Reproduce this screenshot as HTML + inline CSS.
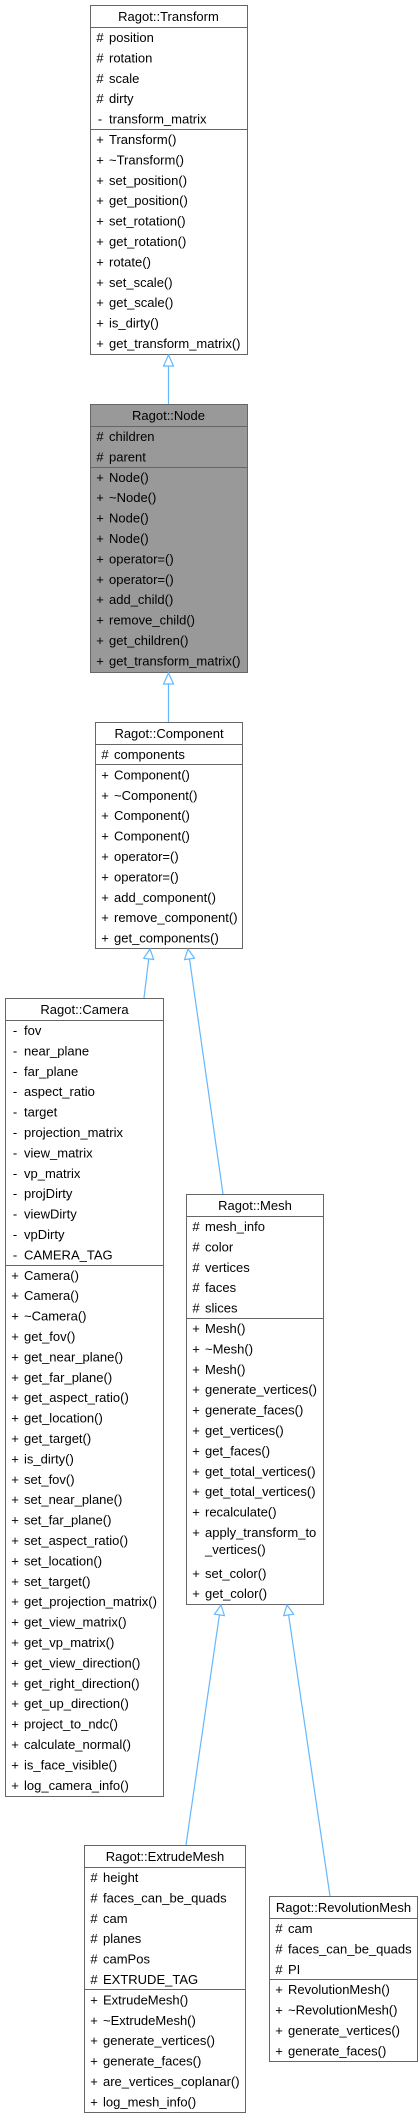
<!DOCTYPE html>
<html><head><meta charset="utf-8"><style>
html,body{margin:0;padding:0;background:#fff;width:420px;height:2120px;overflow:hidden}
svg{display:block}
text{font-family:"Liberation Sans",Arial,sans-serif;font-size:13px;fill:#000}
.b{fill:#fff;stroke:#666;stroke-width:1}
.g{fill:#999;stroke:#666;stroke-width:1}
.s{stroke:#666;stroke-width:1}
.a{stroke:#63b8ff;stroke-width:1.2;fill:none}
.h{stroke:#63b8ff;stroke-width:1.2;fill:#fff}
.m{text-anchor:middle}
</style></head><body>
<svg width="420" height="2120" viewBox="0 0 420 2120">
<!-- Transform -->
<rect class="b" x="90.5" y="5.5" width="157" height="349"/>
<line class="s" x1="90" y1="27.5" x2="247" y2="27.5"/>
<line class="s" x1="90" y1="129.5" x2="247" y2="129.5"/>
<text class="m" x="168.5" y="21">Ragot::Transform</text>
<g>
<text class="m" x="100" y="42">#</text><text x="109" y="42">position</text>
<text class="m" x="100" y="62.4">#</text><text x="109" y="62.4">rotation</text>
<text class="m" x="100" y="82.8">#</text><text x="109" y="82.8">scale</text>
<text class="m" x="100" y="103.2">#</text><text x="109" y="103.2">dirty</text>
<text class="m" x="100" y="123.6">-</text><text x="109" y="123.6">transform_matrix</text>
<text class="m" x="100" y="144">+</text><text x="109" y="144">Transform()</text>
<text class="m" x="100" y="164.4">+</text><text x="109" y="164.4">~Transform()</text>
<text class="m" x="100" y="184.8">+</text><text x="109" y="184.8">set_position()</text>
<text class="m" x="100" y="205.2">+</text><text x="109" y="205.2">get_position()</text>
<text class="m" x="100" y="225.6">+</text><text x="109" y="225.6">set_rotation()</text>
<text class="m" x="100" y="246">+</text><text x="109" y="246">get_rotation()</text>
<text class="m" x="100" y="266.4">+</text><text x="109" y="266.4">rotate()</text>
<text class="m" x="100" y="286.8">+</text><text x="109" y="286.8">set_scale()</text>
<text class="m" x="100" y="307.2">+</text><text x="109" y="307.2">get_scale()</text>
<text class="m" x="100" y="327.6">+</text><text x="109" y="327.6">is_dirty()</text>
<text class="m" x="100" y="348">+</text><text x="109" y="348">get_transform_matrix()</text>
</g>
<!-- arrow 1 -->
<line class="a" x1="168.5" y1="366" x2="168.5" y2="404"/>
<polygon class="h" points="168.5,355 163.5,366 173.5,366"/>
<!-- Node -->
<rect class="g" x="90.5" y="404.5" width="157" height="268"/>
<line class="s" x1="90" y1="426.5" x2="247" y2="426.5"/>
<line class="s" x1="90" y1="467.5" x2="247" y2="467.5"/>
<text class="m" x="168.5" y="420">Ragot::Node</text>
<text class="m" x="100" y="441">#</text><text x="109" y="441">children</text>
<text class="m" x="100" y="461.4">#</text><text x="109" y="461.4">parent</text>
<text class="m" x="100" y="481.8">+</text><text x="109" y="481.8">Node()</text>
<text class="m" x="100" y="502.2">+</text><text x="109" y="502.2">~Node()</text>
<text class="m" x="100" y="522.6">+</text><text x="109" y="522.6">Node()</text>
<text class="m" x="100" y="543">+</text><text x="109" y="543">Node()</text>
<text class="m" x="100" y="563.4">+</text><text x="109" y="563.4">operator=()</text>
<text class="m" x="100" y="583.8">+</text><text x="109" y="583.8">operator=()</text>
<text class="m" x="100" y="604.2">+</text><text x="109" y="604.2">add_child()</text>
<text class="m" x="100" y="624.6">+</text><text x="109" y="624.6">remove_child()</text>
<text class="m" x="100" y="645">+</text><text x="109" y="645">get_children()</text>
<text class="m" x="100" y="665.4">+</text><text x="109" y="665.4">get_transform_matrix()</text>
<!-- arrow 2 -->
<line class="a" x1="168.5" y1="684" x2="168.5" y2="722"/>
<polygon class="h" points="168.5,673 163.5,684 173.5,684"/>
<!-- Component -->
<rect class="b" x="95.5" y="722.5" width="147" height="226"/>
<line class="s" x1="95" y1="744.5" x2="242" y2="744.5"/>
<line class="s" x1="95" y1="764.5" x2="242" y2="764.5"/>
<text class="m" x="169" y="738">Ragot::Component</text>
<text class="m" x="105" y="759">#</text><text x="114" y="759">components</text>
<text class="m" x="105" y="779.4">+</text><text x="114" y="779.4">Component()</text>
<text class="m" x="105" y="799.8">+</text><text x="114" y="799.8">~Component()</text>
<text class="m" x="105" y="820.2">+</text><text x="114" y="820.2">Component()</text>
<text class="m" x="105" y="840.6">+</text><text x="114" y="840.6">Component()</text>
<text class="m" x="105" y="861">+</text><text x="114" y="861">operator=()</text>
<text class="m" x="105" y="881.4">+</text><text x="114" y="881.4">operator=()</text>
<text class="m" x="105" y="901.8">+</text><text x="114" y="901.8">add_component()</text>
<text class="m" x="105" y="922.2">+</text><text x="114" y="922.2">remove_component()</text>
<text class="m" x="105" y="942.6">+</text><text x="114" y="942.6">get_components()</text>
<!-- arrows from Component -->
<line class="a" x1="144" y1="998" x2="148.7" y2="958.9"/>
<polygon class="h" points="150,949 153.7,959.5 143.7,958.3"/>
<line class="a" x1="223" y1="1194" x2="189.5" y2="958.9"/>
<polygon class="h" points="188,949 194.5,958.2 184.6,959.6"/>
<!-- Camera -->
<rect class="b" x="5.5" y="998.5" width="158" height="798"/>
<line class="s" x1="5" y1="1020.5" x2="163" y2="1020.5"/>
<line class="s" x1="5" y1="1265.5" x2="163" y2="1265.5"/>
<text class="m" x="84.5" y="1014">Ragot::Camera</text>
<text class="m" x="15" y="1035">-</text><text x="24" y="1035">fov</text>
<text class="m" x="15" y="1055.4">-</text><text x="24" y="1055.4">near_plane</text>
<text class="m" x="15" y="1075.8">-</text><text x="24" y="1075.8">far_plane</text>
<text class="m" x="15" y="1096.2">-</text><text x="24" y="1096.2">aspect_ratio</text>
<text class="m" x="15" y="1116.6">-</text><text x="24" y="1116.6">target</text>
<text class="m" x="15" y="1137">-</text><text x="24" y="1137">projection_matrix</text>
<text class="m" x="15" y="1157.4">-</text><text x="24" y="1157.4">view_matrix</text>
<text class="m" x="15" y="1177.8">-</text><text x="24" y="1177.8">vp_matrix</text>
<text class="m" x="15" y="1198.2">-</text><text x="24" y="1198.2">projDirty</text>
<text class="m" x="15" y="1218.6">-</text><text x="24" y="1218.6">viewDirty</text>
<text class="m" x="15" y="1239">-</text><text x="24" y="1239">vpDirty</text>
<text class="m" x="15" y="1259.4">-</text><text x="24" y="1259.4">CAMERA_TAG</text>
<text class="m" x="15" y="1279.8">+</text><text x="24" y="1279.8">Camera()</text>
<text class="m" x="15" y="1300.2">+</text><text x="24" y="1300.2">Camera()</text>
<text class="m" x="15" y="1320.6">+</text><text x="24" y="1320.6">~Camera()</text>
<text class="m" x="15" y="1341">+</text><text x="24" y="1341">get_fov()</text>
<text class="m" x="15" y="1361.4">+</text><text x="24" y="1361.4">get_near_plane()</text>
<text class="m" x="15" y="1381.8">+</text><text x="24" y="1381.8">get_far_plane()</text>
<text class="m" x="15" y="1402.2">+</text><text x="24" y="1402.2">get_aspect_ratio()</text>
<text class="m" x="15" y="1422.6">+</text><text x="24" y="1422.6">get_location()</text>
<text class="m" x="15" y="1443">+</text><text x="24" y="1443">get_target()</text>
<text class="m" x="15" y="1463.4">+</text><text x="24" y="1463.4">is_dirty()</text>
<text class="m" x="15" y="1483.8">+</text><text x="24" y="1483.8">set_fov()</text>
<text class="m" x="15" y="1504.2">+</text><text x="24" y="1504.2">set_near_plane()</text>
<text class="m" x="15" y="1524.6">+</text><text x="24" y="1524.6">set_far_plane()</text>
<text class="m" x="15" y="1545">+</text><text x="24" y="1545">set_aspect_ratio()</text>
<text class="m" x="15" y="1565.4">+</text><text x="24" y="1565.4">set_location()</text>
<text class="m" x="15" y="1585.8">+</text><text x="24" y="1585.8">set_target()</text>
<text class="m" x="15" y="1606.2">+</text><text x="24" y="1606.2">get_projection_matrix()</text>
<text class="m" x="15" y="1626.6">+</text><text x="24" y="1626.6">get_view_matrix()</text>
<text class="m" x="15" y="1647">+</text><text x="24" y="1647">get_vp_matrix()</text>
<text class="m" x="15" y="1667.4">+</text><text x="24" y="1667.4">get_view_direction()</text>
<text class="m" x="15" y="1687.8">+</text><text x="24" y="1687.8">get_right_direction()</text>
<text class="m" x="15" y="1708.2">+</text><text x="24" y="1708.2">get_up_direction()</text>
<text class="m" x="15" y="1728.6">+</text><text x="24" y="1728.6">project_to_ndc()</text>
<text class="m" x="15" y="1749">+</text><text x="24" y="1749">calculate_normal()</text>
<text class="m" x="15" y="1769.4">+</text><text x="24" y="1769.4">is_face_visible()</text>
<text class="m" x="15" y="1789.8">+</text><text x="24" y="1789.8">log_camera_info()</text>
<!-- Mesh -->
<rect class="b" x="186.5" y="1194.5" width="137" height="410"/>
<line class="s" x1="186" y1="1216.5" x2="323" y2="1216.5"/>
<line class="s" x1="186" y1="1318.5" x2="323" y2="1318.5"/>
<text class="m" x="255" y="1210">Ragot::Mesh</text>
<text class="m" x="196" y="1231">#</text><text x="205" y="1231">mesh_info</text>
<text class="m" x="196" y="1251.4">#</text><text x="205" y="1251.4">color</text>
<text class="m" x="196" y="1271.8">#</text><text x="205" y="1271.8">vertices</text>
<text class="m" x="196" y="1292.2">#</text><text x="205" y="1292.2">faces</text>
<text class="m" x="196" y="1312.6">#</text><text x="205" y="1312.6">slices</text>
<text class="m" x="196" y="1333">+</text><text x="205" y="1333">Mesh()</text>
<text class="m" x="196" y="1353.4">+</text><text x="205" y="1353.4">~Mesh()</text>
<text class="m" x="196" y="1373.8">+</text><text x="205" y="1373.8">Mesh()</text>
<text class="m" x="196" y="1394.2">+</text><text x="205" y="1394.2">generate_vertices()</text>
<text class="m" x="196" y="1414.6">+</text><text x="205" y="1414.6">generate_faces()</text>
<text class="m" x="196" y="1435">+</text><text x="205" y="1435">get_vertices()</text>
<text class="m" x="196" y="1455.4">+</text><text x="205" y="1455.4">get_faces()</text>
<text class="m" x="196" y="1475.8">+</text><text x="205" y="1475.8">get_total_vertices()</text>
<text class="m" x="196" y="1496.2">+</text><text x="205" y="1496.2">get_total_vertices()</text>
<text class="m" x="196" y="1516.6">+</text><text x="205" y="1516.6">recalculate()</text>
<text class="m" x="196" y="1537">+</text><text x="205" y="1537">apply_transform_to</text>
<text x="205" y="1554">_vertices()</text>
<text class="m" x="196" y="1577.8">+</text><text x="205" y="1577.8">set_color()</text>
<text class="m" x="196" y="1598.2">+</text><text x="205" y="1598.2">get_color()</text>
<!-- arrows from Mesh -->
<line class="a" x1="186" y1="1845" x2="219.4" y2="1614.9"/>
<polygon class="h" points="221,1605 224.4,1615.6 214.5,1614.2"/>
<line class="a" x1="330" y1="1896" x2="288.6" y2="1614.9"/>
<polygon class="h" points="287,1605 293.6,1614.2 283.7,1615.6"/>
<!-- ExtrudeMesh -->
<rect class="b" x="84.5" y="1845.5" width="161" height="267"/>
<line class="s" x1="84" y1="1867.5" x2="245" y2="1867.5"/>
<line class="s" x1="84" y1="1989.5" x2="245" y2="1989.5"/>
<text class="m" x="165" y="1861">Ragot::ExtrudeMesh</text>
<text class="m" x="94" y="1882">#</text><text x="103" y="1882">height</text>
<text class="m" x="94" y="1902.4">#</text><text x="103" y="1902.4">faces_can_be_quads</text>
<text class="m" x="94" y="1922.8">#</text><text x="103" y="1922.8">cam</text>
<text class="m" x="94" y="1943.2">#</text><text x="103" y="1943.2">planes</text>
<text class="m" x="94" y="1963.6">#</text><text x="103" y="1963.6">camPos</text>
<text class="m" x="94" y="1984">#</text><text x="103" y="1984">EXTRUDE_TAG</text>
<text class="m" x="94" y="2004.4">+</text><text x="103" y="2004.4">ExtrudeMesh()</text>
<text class="m" x="94" y="2024.8">+</text><text x="103" y="2024.8">~ExtrudeMesh()</text>
<text class="m" x="94" y="2045.2">+</text><text x="103" y="2045.2">generate_vertices()</text>
<text class="m" x="94" y="2065.6">+</text><text x="103" y="2065.6">generate_faces()</text>
<text class="m" x="94" y="2086">+</text><text x="103" y="2086">are_vertices_coplanar()</text>
<text class="m" x="94" y="2106.4">+</text><text x="103" y="2106.4">log_mesh_info()</text>
<!-- RevolutionMesh -->
<rect class="b" x="269.5" y="1896.5" width="148" height="165"/>
<line class="s" x1="269" y1="1918.5" x2="418" y2="1918.5"/>
<line class="s" x1="269" y1="1979.5" x2="418" y2="1979.5"/>
<text class="m" x="343.5" y="1912">Ragot::RevolutionMesh</text>
<text class="m" x="279" y="1933">#</text><text x="288" y="1933">cam</text>
<text class="m" x="279" y="1953.4">#</text><text x="288" y="1953.4">faces_can_be_quads</text>
<text class="m" x="279" y="1973.8">#</text><text x="288" y="1973.8">PI</text>
<text class="m" x="279" y="1994.2">+</text><text x="288" y="1994.2">RevolutionMesh()</text>
<text class="m" x="279" y="2014.6">+</text><text x="288" y="2014.6">~RevolutionMesh()</text>
<text class="m" x="279" y="2035">+</text><text x="288" y="2035">generate_vertices()</text>
<text class="m" x="279" y="2055.4">+</text><text x="288" y="2055.4">generate_faces()</text>
</svg>
</body></html>
